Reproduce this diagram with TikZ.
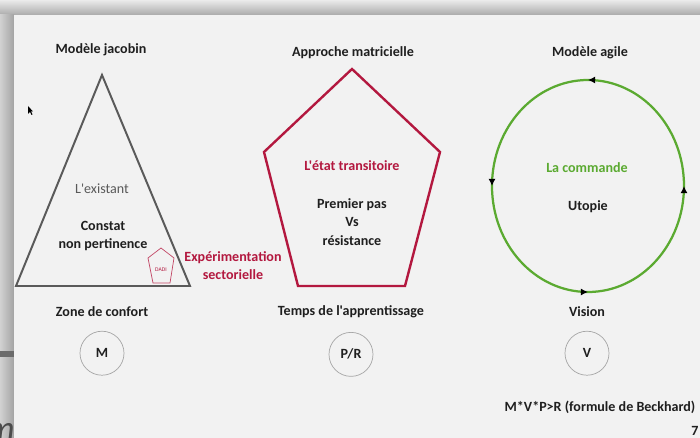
\documentclass[tikz,border=0pt]{standalone}
\usepackage{fontspec}
\setmainfont{Carlito}[Ligatures=TeXOff]
\usepackage{xcolor}
\usepackage{tikz}
\usetikzlibrary{positioning, calc, arrows.meta, decorations.markings, shapes}

\definecolor{slidebg}{HTML}{F2F2F2}
\definecolor{ink}{HTML}{1F1F1F}
\definecolor{jacobin}{HTML}{5A5A5A}
\definecolor{matrice}{HTML}{B3183F}
\definecolor{agile}{HTML}{5BAA31}
\definecolor{ringgray}{HTML}{A6A6A6}

\newcommand{\capfont}{\fontsize{10}{13}\selectfont\bfseries}

\begin{document}
\begin{tikzpicture}[x=0.025cm, y=-0.025cm,
	caption/.style={font=\capfont, text=ink, align=center, inner sep=0pt},
	badge/.style={circle, draw=ringgray, line width=0.5pt, minimum size=1.1cm, inner sep=0pt, font=\capfont, text=ink}]
			\useasboundingbox (0,0) rectangle (700,438);
			%% window around the slide
			\shade[top color=black!8, bottom color=black!33] (0,0) rectangle (700,15);
			\shade[left color=black!18, right color=black!36] (0,15) rectangle (14,438);
			\fill[slidebg] (14,15) rectangle (700,438);
			\fill[black!58] (0,351) rectangle (14,357);
			\begin{scope}
				\clip (0,400) rectangle (14,438);
				\node[anchor=base east, inner sep=0pt, text=black!70, font=\itshape\fontsize{25}{25}\selectfont] (stub) at (15,441) {m};
			\end{scope}
			\fill[black] (28,106) -- (28,114) -- (30,112) -- (31.5,115) -- (32.5,114.5) -- (31,111.5) -- (33,111.5) -- cycle;
			
			%% modele jacobin
			\coordinate (apex) at (102,75);
			\coordinate (tl) at (16,286);
			\coordinate (tr) at (190,286);
			\draw[jacobin, line width=1.4pt] (apex) -- (tr) -- (tl) -- cycle;
			\node[caption] (jacobin) at (101,50) {Modèle jacobin};
			\node[caption, text=jacobin, font=\fontsize{10}{13}\selectfont] (existant) at (102,189) {L'existant};
			\node[caption] (constat) at (103,236) {Constat\\non pertinence};
			\draw[matrice!80, line width=0.5pt] (161,248) -- (174,258) -- (170,283) -- (153,283) -- (148,258) -- cycle;
			\node[caption, text=matrice, font=\fontsize{4}{4}\selectfont] (dadi) at (161,270) {DADI};
			\node[caption, text=matrice] (experim) at (233,265.5) {Expérimentation\\sectorielle};
			\node[caption] (confort) at (102,312) {Zone de confort};
			\node[badge, below=0.34cm of confort] (M) {M};
			
			%% approche matricielle
			\draw[matrice, line width=1.7pt] (352,69) -- (440,152) -- (405,286) -- (298,286) -- (264,152) -- cycle;
			\node[caption] (matricielle) at (353,53) {Approche matricielle};
			\node[caption, text=matrice] (transit) at (352,166) {L'état transitoire};
			\node[caption] (premier) at (352,222) {Premier pas\\Vs\\résistance};
			\node[caption] (apprent) at (351,312) {Temps de l'apprentissage};
			\node[badge, below=0.34cm of apprent] (PR) {P/R};
			
			%% modele agile
			\draw[agile, line width=1.6pt, postaction=decorate,
				decoration={markings, mark=between positions 0 and 0.8 step 0.25 with {\arrowreversed[black]{Latex[length=5pt,width=5pt]}}}]
				(588,186) ellipse [x radius=96, y radius=106];
			\node[caption] (agile) at (590,53) {Modèle agile};
			\node[caption, text=agile] (commande) at (587,168) {La commande};
			\node[caption] (utopie) at (588,207) {Utopie};
			\node[caption] (vision) at (587,312) {Vision};
			\node[badge, below=0.34cm of vision] (V) {V};
			\node[caption] (beckhard) at (600,407) {M*V*P>R (formule de Beckhard)};
			\node[caption, anchor=west] (page) at (691,431) {7};
\end{tikzpicture}
\end{document}
